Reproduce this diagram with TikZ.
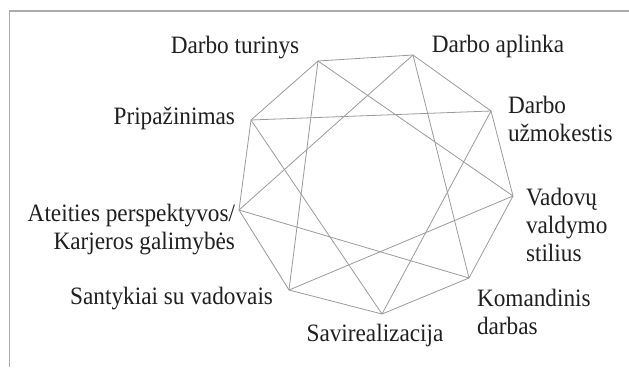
\documentclass[tikz,border=0pt]{standalone}
\usepackage{fontspec}
\setmainfont{Liberation Serif}[FakeStretch=0.93]
\usepackage{tikz}
\usetikzlibrary{positioning}
\usepackage{xcolor}
\definecolor{framegray}{HTML}{ABABAB}
\definecolor{edgegray}{HTML}{9A9A9A}
\tikzset{
factor/.style={inner sep=0pt,outer sep=0pt,text=black!88,
  font=\fontsize{25}{28}\selectfont},
factorL/.style={factor,align=left,anchor=west},
factorR/.style={factor,align=right,anchor=east},
linkline/.style={draw=edgegray,line width=0.8pt,line join=round},
frameline/.style={draw=framegray,line width=1.5pt}
}

\begin{document}
\begin{tikzpicture}[x=1pt,y=-1pt]
\useasboundingbox (0,0) rectangle (629,367);
\draw[frameline] (9.5,367) -- (9.5,11) -- (629,11);

% corners of the nonagon
\coordinate (turinys) at (318,61);
\coordinate (aplinka) at (413,55);
\coordinate (uzmok) at (491,111);
\coordinate (vadovu) at (513,196);
\coordinate (komand) at (469,278);
\coordinate (savireal) at (382,314);
\coordinate (santyk) at (289,290);
\coordinate (ateities) at (239,210);
\coordinate (pripaz) at (251,120);

% labels
\node[factor] (lturinys) at (235,48) {Darbo turinys};
\node[factor] (laplinka) at (498,46) {Darbo aplinka};
\node[factorL] (luzmok) at (508,119) {Darbo\\užmokestis};
\node[factorL] (lvadovu) at (526,225) {Vadovų\\valdymo\\stilius};
\node[factorL] (lkomand) at (477,312) {Komandinis\\darbas};
\node[factor] (lsavireal) at (375,335) {Savirealizacija};
\node[factorR] (lsantyk) at (273,299) {Santykiai su vadovais};
\node[factorR] (lateities) at (235,230) {Ateities perspektyvos/\\Karjeros galimybės};
\node[factorR] (lpripaz) at (235,118) {Pripažinimas};

% outline
\draw[linkline] (turinys) -- (aplinka) -- (uzmok) -- (vadovu) -- (komand)
  -- (savireal) -- (santyk) -- (ateities) -- (pripaz) -- cycle;
% inner triangles
\draw[linkline] (turinys) -- (vadovu) -- (santyk) -- cycle;
\draw[linkline] (aplinka) -- (komand) -- (ateities) -- cycle;
\draw[linkline] (uzmok) -- (savireal) -- (pripaz) -- cycle;
\end{tikzpicture}
\end{document}
